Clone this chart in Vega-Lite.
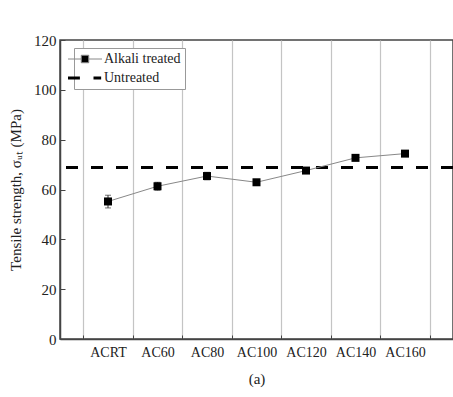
{
  "$schema": "https://vega.github.io/schema/vega-lite/v6.json",
  "width": 393,
  "height": 299,
  "autosize": "none",
  "padding": {"left": 60, "top": 40, "right": 0, "bottom": 58},
  "background": "white",
  "config": {
    "view": {"stroke": "#444", "strokeWidth": 1.5},
    "font": "Liberation Serif"
  },
  "datasets": {
    "alkali": [
      {"series": "Alkali treated", "sample": "ACRT", "value": 55.2, "lo": 52.6, "hi": 57.7},
      {"series": "Alkali treated", "sample": "AC60", "value": 61.3, "lo": 59.7, "hi": 62.9},
      {"series": "Alkali treated", "sample": "AC80", "value": 65.4, "lo": 63.9, "hi": 66.9},
      {"series": "Alkali treated", "sample": "AC100", "value": 62.9, "lo": 62.0, "hi": 63.8},
      {"series": "Alkali treated", "sample": "AC120", "value": 67.6, "lo": 66.9, "hi": 68.3},
      {"series": "Alkali treated", "sample": "AC140", "value": 72.7, "lo": 71.6, "hi": 73.8},
      {"series": "Alkali treated", "sample": "AC160", "value": 74.4, "lo": 73.5, "hi": 75.3}
    ],
    "untreated": [
      {"series": "Untreated", "value": 68.8}
    ]
  },
  "layer": [
    {
      "data": {"name": "untreated"},
      "mark": {"type": "rule", "strokeWidth": 3, "strokeDash": [12, 13], "strokeDashOffset": 0},
      "encoding": {
        "y": {
          "field": "value", "type": "quantitative",
          "title": "Tensile strength, σᵤₜ (MPa)",
          "scale": {"domain": [0, 120], "nice": false},
          "axis": {
            "titleFont": "Liberation Serif", "titleFontSize": 15, "titleFontWeight": "normal", "titleColor": "#222", "titlePadding": 10,
            "values": [0, 10, 20, 30, 40, 50, 60, 70, 80, 90, 100, 110, 120],
            "labelExpr": "datum.value % 20 === 0 ? datum.label : ''",
            "labelOverlap": false,
            "labelFont": "Liberation Serif", "labelFontSize": 15, "labelColor": "#222",
            "labelPadding": 9,
            "tickSize": {"condition": {"test": "datum.value % 20 === 0", "value": -5}, "value": -3},
            "tickColor": "#444",
            "domainColor": "#444", "domainWidth": 1.5,
            "grid": true,
            "gridColor": {"condition": {"test": "datum.value % 20 === 10", "value": "#c8c8c8"}, "value": "transparent"},
            "gridDash": [2, 2]
          }
        },
        "color": {
          "field": "series", "type": "nominal",
          "scale": {"domain": ["Alkali treated", "Untreated"], "range": ["#888888", "#000000"]},
          "legend": {
            "title": null,
            "orient": "none", "legendX": 14, "legendY": 8,
            "fillColor": "white", "strokeColor": "#999", "padding": 4,
            "labelFont": "Liberation Serif", "labelFontSize": 14, "labelColor": "#222",
            "symbolSize": 1156, "rowPadding": 5, "labelOffset": 12,
            "encode": {
              "symbols": {
                "update": {
                  "shape": {"signal": "datum.value === 'Alkali treated' ? 'M-1,0L-0.22,0M0.22,0L1,0M-0.22,-0.22L0.22,-0.22L0.22,0.22L-0.22,0.22Z' : 'M-1,0L-0.3,0M0.5,0L0.95,0'"},
                  "size": {"value": 1156},
                  "fill": {"signal": "datum.value === 'Alkali treated' ? 'black' : 'transparent'"},
                  "stroke": {"signal": "datum.value === 'Alkali treated' ? '#888' : 'black'"},
                  "strokeWidth": {"signal": "datum.value === 'Alkali treated' ? 1 : 3"},
                  "strokeDash": {"value": []}
                }
              }
            }
          }
        }
      }
    },
    {
      "data": {"name": "alkali"},
      "mark": {"type": "line", "strokeWidth": 1},
      "encoding": {
        "x": {
          "field": "sample", "type": "ordinal",
          "title": "(a)",
          "sort": null,
          "scale": {"type": "band", "domain": ["ACRT", "AC60", "AC80", "AC100", "AC120", "AC140", "AC160"], "paddingInner": 0, "paddingOuter": 0.47},
          "axis": {
            "titleFont": "Liberation Serif", "titleFontSize": 15, "titleFontWeight": "normal", "titleColor": "#222", "titlePadding": 12,
            "labelAngle": 0,
            "labelOverlap": false,
            "labelFont": "Liberation Serif", "labelFontSize": 14, "labelColor": "#222",
            "labelPadding": 10,
            "tickBand": "extent",
            "tickSize": -4,
            "tickColor": "#444",
            "domainColor": "#444", "domainWidth": 1.5,
            "grid": true,
            "gridColor": "#c4c4c4",
            "gridWidth": 1.2
          }
        },
        "y": {"field": "value", "type": "quantitative", "title": "Tensile strength, σᵤₜ (MPa)"},
        "color": {"field": "series", "type": "nominal"}
      }
    },
    {
      "data": {"name": "alkali"},
      "mark": {"type": "errorbar", "ticks": {"size": 6, "color": "#333"}, "rule": {"color": "#333"}},
      "encoding": {
        "x": {"field": "sample", "type": "ordinal", "sort": null},
        "y": {"field": "lo", "type": "quantitative", "title": "Tensile strength, σᵤₜ (MPa)"},
        "y2": {"field": "hi"}
      }
    },
    {
      "data": {"name": "alkali"},
      "mark": {"type": "square", "filled": true, "color": "black", "size": 64, "opacity": 1},
      "encoding": {
        "x": {"field": "sample", "type": "ordinal", "sort": null},
        "y": {"field": "value", "type": "quantitative", "title": "Tensile strength, σᵤₜ (MPa)"}
      }
    }
  ]
}
